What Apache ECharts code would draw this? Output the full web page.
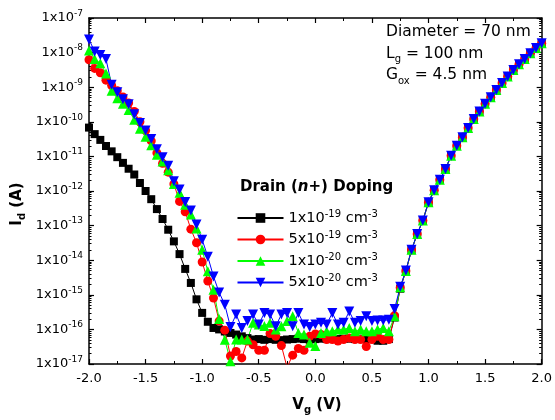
<!DOCTYPE html>
<html>
<head>
<meta charset="utf-8">
<script src="https://cdn.jsdelivr.net/npm/echarts@6/dist/echarts.min.js"></script>
<style>
html,body{margin:0;padding:0;background:#fff;}
#chart{width:555px;height:420px;}
</style>
</head>
<body>
<div id="chart"></div>
<script>
// Gate voltage (V)
const vg = [
-2.00,-1.95,-1.90,-1.85,-1.80,-1.75,-1.70,-1.65,-1.60,-1.55,
-1.50,-1.45,-1.40,-1.35,-1.30,-1.25,-1.20,-1.15,-1.10,-1.05,
-1.00,-0.95,-0.90,-0.85,-0.80,-0.75,-0.70,-0.65,-0.60,-0.55,
-0.50,-0.45,-0.40,-0.35,-0.30,-0.25,-0.20,-0.15,-0.10,-0.05,
0.00,0.05,0.10,0.15,0.20,0.25,0.30,0.35,0.40,0.45,
0.50,0.55,0.60,0.65,0.70,0.75,0.80,0.85,0.90,0.95,
1.00,1.05,1.10,1.15,1.20,1.25,1.30,1.35,1.40,1.45,
1.50,1.55,1.60,1.65,1.70,1.75,1.80,1.85,1.90,1.95,
2.00];

// Drain current (A), doping 1x10^-19 cm^-3
const id1e19 = [
6.8e-11,4.4e-11,3.0e-11,2.0e-11,1.4e-11,9.5e-12,6.5e-12,4.4e-12,3.0e-12,1.7e-12,
1.0e-12,5.8e-13,3.0e-13,1.55e-13,7.6e-14,3.5e-14,1.5e-14,5.6e-15,2.2e-15,7.4e-16,
3.0e-16,1.66e-16,1.1e-16,1.0e-16,8.7e-17,7.9e-17,7.1e-17,6.3e-17,5.6e-17,5.1e-17,
5.25e-17,5.0e-17,5.25e-17,5.0e-17,4.9e-17,5.1e-17,5.25e-17,5.4e-17,5.25e-17,5.1e-17,
5.25e-17,5.4e-17,5.25e-17,5.4e-17,5.25e-17,5.4e-17,5.4e-17,5.25e-17,5.4e-17,5.25e-17,
5.25e-17,4.7e-17,4.7e-17,5.25e-17,2.2e-16,1.5e-15,4.8e-15,1.95e-14,5.6e-14,1.4e-13,
4.6e-13,1.05e-12,2.1e-12,4.3e-12,1.05e-11,2.04e-11,3.6e-11,6.6e-11,1.2e-10,2.0e-10,
3.3e-10,5.1e-10,8.3e-10,1.32e-9,2.04e-9,3.16e-9,4.6e-9,6.5e-9,9.5e-9,1.35e-8,
1.86e-8];

// doping 5x10^-19 cm^-3
const id5e19 = [
6.2e-9,3.5e-9,2.6e-9,1.6e-9,1.12e-9,7.9e-10,5.2e-10,3.5e-10,2.0e-10,1.0e-10,
5.6e-11,2.8e-11,1.26e-11,6.3e-12,3.5e-12,1.6e-12,5.0e-13,2.5e-13,7.9e-14,3.2e-14,
8.9e-15,2.5e-15,8.1e-16,1.74e-16,9.5e-17,1.7e-17,2.3e-17,1.5e-17,4.6e-17,3.6e-17,
2.5e-17,2.5e-17,7.6e-17,6.3e-17,3.4e-17,8.0e-18,1.8e-17,2.8e-17,2.5e-17,6.3e-17,
7.4e-17,7.1e-17,5.1e-17,5.1e-17,4.6e-17,5.1e-17,5.6e-17,5.1e-17,5.1e-17,3.2e-17,
5.1e-17,6.3e-17,5.1e-17,5.1e-17,2.5e-16,1.6e-15,4.9e-15,2.0e-14,5.7e-14,1.41e-13,
4.7e-13,1.05e-12,2.1e-12,4.3e-12,1.05e-11,2.04e-11,3.6e-11,6.6e-11,1.2e-10,2.0e-10,
3.3e-10,5.1e-10,8.3e-10,1.32e-9,2.04e-9,3.16e-9,4.6e-9,6.5e-9,9.5e-9,1.35e-8,
1.86e-8];

// doping 1x10^-20 cm^-3
const id1e20 = [
1.15e-8,6.5e-9,4.9e-9,2.5e-9,7.9e-10,4.8e-10,3.3e-10,2.2e-10,1.15e-10,6.3e-11,
3.7e-11,2.1e-11,1.12e-11,7.1e-12,4.0e-12,1.6e-12,8.9e-13,4.0e-13,2.1e-13,8.3e-14,
2.0e-14,4.8e-15,1.41e-15,2.0e-16,5.0e-17,1.2e-17,5.1e-17,5.1e-17,5.1e-17,1.55e-16,
1.38e-16,1.26e-16,1.55e-16,1.0e-16,1.23e-16,1.74e-16,2.4e-16,7.9e-17,7.1e-17,4.1e-17,
3.3e-17,7.9e-17,8.9e-17,8.9e-17,1.0e-16,1.0e-16,1.1e-16,8.9e-17,1.0e-16,8.9e-17,
8.9e-17,1.0e-16,1.1e-16,8.9e-17,2.4e-16,1.65e-15,4.9e-15,2.0e-14,5.75e-14,1.41e-13,
4.7e-13,1.05e-12,2.1e-12,4.3e-12,1.05e-11,2.04e-11,3.6e-11,6.6e-11,1.2e-10,2.0e-10,
3.3e-10,5.1e-10,8.3e-10,1.32e-9,2.04e-9,3.16e-9,4.6e-9,6.5e-9,9.5e-9,1.35e-8,
1.86e-8];

// doping 5x10^-20 cm^-3
const id5e20 = [
2.4e-8,1.07e-8,8.5e-9,6.5e-9,1.17e-9,7.2e-10,4.5e-10,3.2e-10,1.66e-10,9.3e-11,
5.6e-11,3.2e-11,1.6e-11,9.5e-12,5.4e-12,1.9e-12,1.1e-12,4.8e-13,2.75e-13,1.07e-13,
3.9e-14,1.26e-14,3.4e-15,1.17e-15,5.2e-16,1.17e-16,2.7e-16,1.1e-16,1.74e-16,2.7e-16,
1.38e-16,3.0e-16,2.7e-16,1.23e-16,2.7e-16,3.0e-16,1.23e-16,3.0e-16,1.38e-16,1.17e-16,
1.38e-16,1.55e-16,1.38e-16,3.0e-16,1.38e-16,1.55e-16,3.3e-16,1.55e-16,1.74e-16,2.4e-16,
1.74e-16,1.82e-16,1.82e-16,1.9e-16,3.9e-16,1.7e-15,5.0e-15,2.0e-14,5.75e-14,1.41e-13,
4.7e-13,1.05e-12,2.1e-12,4.3e-12,1.05e-11,2.04e-11,3.6e-11,6.6e-11,1.2e-10,2.0e-10,
3.3e-10,5.1e-10,8.3e-10,1.32e-9,2.04e-9,3.16e-9,4.6e-9,6.5e-9,9.5e-9,1.35e-8,
1.86e-8];

const seriesNames = ['1x10^-19 cm^-3','5x10^-19 cm^-3','1x10^-20 cm^-3','5x10^-20 cm^-3'];
const xTicks = [-2.0,-1.5,-1.0,-0.5,0.0,0.5,1.0,1.5,2.0];
const yExponents = [-17,-16,-15,-14,-13,-12,-11,-10,-9,-8,-7];

const FONT = 'DejaVu Sans';
const minorY = [];
for (const e of yExponents.slice(0, -1)) {
  for (let k = 2; k <= 9; k++) minorY.push(k * Math.pow(10, e));
}

const chart = echarts.init(document.getElementById('chart'), null, {renderer: 'canvas'});

const supRich = {
  t: {fontFamily: FONT, fontSize: 13, lineHeight: 18, color: '#000'},
  sup: {fontFamily: FONT, fontSize: 9, lineHeight: 9, verticalAlign: 'top', color: '#000'}
};

function mkSeries(name, data, color, symbol, size, rotate) {
  return {
    name: name,
    type: 'line',
    data: vg.map((v, i) => [v, data[i]]),
    symbol: symbol,
    symbolSize: size,
    symbolRotate: rotate || 0,
    itemStyle: {color: color},
    lineStyle: {color: color, width: 1},
    clip: true,
    xAxisIndex: 0,
    yAxisIndex: 0
  };
}

const logAxisBase = {
  type: 'log', logBase: 10, min: 1e-17, max: 1e-7, interval: 1,
  splitLine: {show: false}
};

const option = {
  backgroundColor: '#fff',
  animation: false,
  grid: {left: 89, right: 10, top: 18, bottom: 56, containLabel: false},
  xAxis: [
    {
      type: 'value', min: -2, max: 2, interval: 0.5, position: 'bottom',
      axisLine: {onZero: false, lineStyle: {color: '#000', width: 1.5}},
      axisTick: {inside: true, length: 5, lineStyle: {color: '#000', width: 1.2}},
      minorTick: {show: true, splitNumber: 2, length: 3, lineStyle: {color: '#000', width: 1}},
      axisLabel: {color: '#000', fontFamily: FONT, fontSize: 13, margin: 8,
        formatter: v => xTicks.includes(Math.round(v*10)/10) ? v.toFixed(1) : ''},
      splitLine: {show: false}
    },
    {
      type: 'value', min: -2, max: 2, interval: 0.5, position: 'top',
      axisLine: {show: true, onZero: false, lineStyle: {color: '#000', width: 1.5}},
      axisTick: {inside: true, length: 5, lineStyle: {color: '#000', width: 1.2}},
      minorTick: {show: true, splitNumber: 2, length: 3, lineStyle: {color: '#000', width: 1}},
      axisLabel: {show: false},
      splitLine: {show: false}
    }
  ],
  yAxis: [
    Object.assign({}, logAxisBase, {
      position: 'left',
      axisLine: {show: true, onZero: false, lineStyle: {color: '#000', width: 1.5}},
      axisTick: {show: true, inside: true, length: 5, lineStyle: {color: '#000', width: 1.2}},
      axisLabel: {
        margin: 6,
        formatter: v => {
          const e = Math.round(Math.log10(v));
          return yExponents.includes(e) ? '{t|1x10}{sup|' + e + '}' : '';
        },
        rich: supRich
      }
    }),
    Object.assign({}, logAxisBase, {
      position: 'right',
      axisLine: {show: true, onZero: false, lineStyle: {color: '#000', width: 1.5}},
      axisTick: {show: true, inside: true, length: 5, lineStyle: {color: '#000', width: 1.2}},
      axisLabel: {show: false}
    }),
    Object.assign({}, logAxisBase, {
      position: 'left',
      axisLine: {show: false, onZero: false},
      axisTick: {show: true, inside: true, length: 2.5, customValues: minorY, lineStyle: {color: '#000', width: 1}},
      axisLabel: {show: false}
    }),
    Object.assign({}, logAxisBase, {
      position: 'right',
      axisLine: {show: false, onZero: false},
      axisTick: {show: true, inside: true, length: 2.5, customValues: minorY, lineStyle: {color: '#000', width: 1}},
      axisLabel: {show: false}
    })
  ],
  legend: {
    show: true,
    orient: 'vertical',
    left: 231.5,
    top: 204,
    itemWidth: 46,
    itemHeight: 12,
    itemGap: 5,
    data: seriesNames,
    formatter: name => '{t|' + name.replace(/\^(-?\d+)/g, '}{sup|$1}{t|') + '}',
    textStyle: {
      color: '#000', fontFamily: FONT, fontSize: 14.5,
      rich: {
        t: {fontFamily: FONT, fontSize: 14.5, lineHeight: 18, color: '#000'},
        sup: {fontFamily: FONT, fontSize: 10, lineHeight: 10, verticalAlign: 'top', color: '#000'}
      }
    }
  },
  graphic: [
    {
      type: 'text', left: 386, top: 24,
      style: {
        text: '{t|Diameter = 70 nm}\n{t|L}{sub|g}{t| = 100 nm}\n{t|G}{sub|ox}{t| = 4.5 nm}',
        rich: {
          t: {fontFamily: FONT, fontSize: 15.5, lineHeight: 21.7, fill: '#000'},
          sub: {fontFamily: FONT, fontSize: 10, lineHeight: 10, verticalAlign: 'bottom', fill: '#000'}
        }
      }
    },
    {
      type: 'text', left: 240, top: 180,
      style: {
        text: '{b|Drain (}{bi|n}{b|+) Doping}',
        rich: {
          b: {fontFamily: FONT, fontSize: 15, fontWeight: 'bold', fill: '#000', lineHeight: 20},
          bi: {fontFamily: FONT, fontSize: 15, fontWeight: 'bold', fontStyle: 'italic', fill: '#000', lineHeight: 20}
        }
      }
    },
    {
      type: 'text', x: 317, y: 405,
      style: {
        text: '{b|V}{sub|g}{b| (V)}',
        align: 'center', verticalAlign: 'middle',
        rich: {
          b: {fontFamily: FONT, fontSize: 15, fontWeight: 'bold', fill: '#000', lineHeight: 20},
          sub: {fontFamily: FONT, fontSize: 10, fontWeight: 'bold', fill: '#000', lineHeight: 10, verticalAlign: 'bottom'}
        }
      }
    },
    {
      type: 'text', x: 17, y: 204, rotation: Math.PI / 2,
      style: {
        text: '{b|I}{sub|d}{b| (A)}',
        align: 'center', verticalAlign: 'middle',
        rich: {
          b: {fontFamily: FONT, fontSize: 15, fontWeight: 'bold', fill: '#000', lineHeight: 20},
          sub: {fontFamily: FONT, fontSize: 10, fontWeight: 'bold', fill: '#000', lineHeight: 10, verticalAlign: 'bottom'}
        }
      }
    }
  ],
  series: [
    mkSeries(seriesNames[0], id1e19, '#000000', 'rect', 8),
    mkSeries(seriesNames[1], id5e19, '#ff0000', 'circle', 9),
    mkSeries(seriesNames[2], id1e20, '#00ff00', 'triangle', 10),
    mkSeries(seriesNames[3], id5e20, '#0000ff', 'triangle', 10, 180)
  ]
};

chart.setOption(option);
</script>
</body>
</html>
